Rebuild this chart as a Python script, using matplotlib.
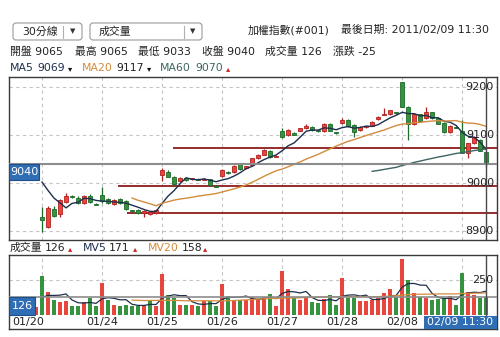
import matplotlib
matplotlib.use("Agg")
import matplotlib.pyplot as plt
from matplotlib.patches import Rectangle, FancyBboxPatch
from matplotlib.transforms import blended_transform_factory
import numpy as np
import pandas as pd

plt.rcParams['font.family'] = ['DejaVu Sans', 'Noto Sans CJK TC']

# 30 min bars: tail of 01/20, then 01/21 ... 02/09 11:30
opens = [9028, 9034, 9012, 9016,
         8929, 8908, 8946, 8935, 8960, 8972, 8969, 8959, 8973, 8957,
         8975, 8967, 8956, 8966, 8962, 8943, 8944, 8938, 8936, 8937,
         9016, 9023, 9013, 9004, 9011, 9008, 9009, 9007, 9008, 8994,
         9014, 9022, 9022, 9039, 9031, 9037, 9052, 9059, 9067, 9055,
         9108, 9099, 9105, 9109, 9114, 9117, 9110, 9109, 9124, 9106,
         9125, 9132, 9121, 9110, 9116, 9119, 9133, 9142, 9143, 9147,
         9210, 9159, 9122, 9143, 9135, 9147, 9135, 9126, 9106, 9117,
         9108, 9062, 9083, 9090, 9065]
highs = [9038, 9037, 9020, 9030,
         8950, 8951, 8951, 8967, 8980, 8974, 8972, 8975, 8976, 8959,
         8992, 8969, 8967, 8968, 8964, 8944, 8946, 8943, 8940, 8946,
         9031, 9027, 9014, 9012, 9012, 9011, 9010, 9010, 9009, 8995,
         9030, 9025, 9037, 9041, 9036, 9053, 9060, 9070, 9069, 9058,
         9115, 9112, 9107, 9115, 9123, 9119, 9111, 9125, 9126, 9107,
         9135, 9134, 9122, 9118, 9119, 9129, 9139, 9156, 9153, 9149,
         9211, 9160, 9145, 9144, 9159, 9148, 9136, 9127, 9120, 9119,
         9131, 9084, 9098, 9092, 9065]
lows = [9020, 9010, 9010, 9010,
        8898, 8905, 8929, 8930, 8958, 8969, 8957, 8957, 8959, 8954,
        8958, 8956, 8954, 8956, 8944, 8940, 8936, 8930, 8934, 8936,
        9005, 9012, 8996, 9002, 9005, 9007, 9006, 9006, 8994, 8991,
        9012, 9019, 9020, 9028, 9030, 9036, 9051, 9058, 9052, 9054,
        9094, 9098, 9099, 9108, 9113, 9109, 9107, 9107, 9108, 9103,
        9123, 9117, 9096, 9109, 9115, 9118, 9131, 9141, 9142, 9144,
        9158, 9090, 9121, 9128, 9134, 9134, 9123, 9105, 9105, 9114,
        9062, 9053, 9082, 9066, 9033]
closes = [9035, 9011, 9015, 9025,
          8923, 8948, 8931, 8965, 8973, 8970, 8959, 8973, 8961, 8955,
          8962, 8958, 8965, 8958, 8946, 8941, 8937, 8941, 8939, 8944,
          9026, 9013, 8998, 9011, 9006, 9010, 9007, 9009, 8995, 8992,
          9028, 9021, 9036, 9029, 9035, 9052, 9059, 9069, 9055, 9057,
          9096, 9110, 9100, 9114, 9119, 9110, 9108, 9124, 9109, 9104,
          9132, 9119, 9107, 9117, 9118, 9128, 9138, 9143, 9152, 9145,
          9159, 9124, 9143, 9129, 9149, 9135, 9124, 9106, 9119, 9115,
          9063, 9083, 9096, 9067, 9040]
volumes = [95, 110, 85, 59,
           281, 167, 107, 95, 102, 67, 67, 95, 119, 67,
           231, 107, 71, 67, 71, 67, 67, 69, 105, 67,
           290, 143, 119, 71, 71, 71, 64, 102, 102, 67,
           221, 136, 107, 107, 107, 126, 115, 130, 148, 64,
           314, 183, 119, 107, 119, 95, 85, 112, 143, 71,
           262, 122, 122, 102, 102, 107, 119, 158, 183, 131,
           400, 252, 160, 126, 124, 107, 112, 119, 136, 71,
           302, 165, 140, 122, 126]

dates = ['01/20', '01/21', '01/24', '01/25', '01/26', '01/27', '01/28', '02/08', '02/09']
day_start = [0, 4, 14, 24, 34, 44, 54, 64, 74]
last_time = '11:30'
price_ticks = [8900, 9000, 9100, 9200]
vol_ticks = [250]
sr_levels = [9072, 8993, 8938]
sr_from = [25.8, 16.7, 18.2]

RED, RED_D = '#e8453c', '#b02020'
GRN, GRN_D = '#35923f', '#1d6a2a'
BLUE = '#2f6db4'
C_MA5, C_MA20, C_MA60 = '#1e2f4d', '#d38b3c', '#3d6464'
GRID = '#c4c4c4'

o, h, l, c = map(np.array, (opens, highs, lows, closes))
v = np.array(volumes)
x = np.arange(len(c))
W, H = 500, 337


def box(x0, y0, x1, y1):
    return [x0 / W, 1 - y1 / H, (x1 - x0) / W, (y1 - y0) / H]


fig = plt.figure(figsize=(5, 3.37), dpi=100)
ax = fig.add_axes(box(9, 77, 497, 240))
axv = fig.add_axes(box(9, 255, 497, 329))
top = fig.add_axes([0, 0, 1, 1], zorder=-1)
top.set_xlim(0, W)
top.set_ylim(H, 0)
top.axis('off')

xlim = (-1.5, 79.8)
axw = 488.0  # axes width in px

# ---- price panel
ax.set_xlim(*xlim)
ax.set_ylim(8881, 9221)
ax.set_xticks([])
ax.set_yticks([])
for s in ax.spines.values():
    s.set_color('#3a3a3a')
    s.set_linewidth(1)
for p in price_ticks:
    ax.axhline(p, color=GRID, lw=0.8, ls=(0, (3, 3)), zorder=0)
for d in day_start[1:]:
    ax.axvline(d, color=GRID, lw=0.8, ls=(0, (3, 3)), zorder=0)

for lev, x0 in zip(sr_levels, sr_from):
    ax.hlines(lev, x0, xlim[1], color='#8e1b1b', lw=1.3, zorder=2)

up = c >= o
ax.vlines(x, l, h, colors=np.where(up, RED_D, GRN_D), lw=0.9, zorder=3)
ax.bar(x, np.maximum(np.abs(c - o), 0.6), bottom=np.minimum(o, c), width=0.7,
       color=np.where(up, RED, GRN), edgecolor=np.where(up, RED_D, GRN_D),
       lw=0.6, zorder=4)

cs = pd.Series(c)
ma = {}
for w, col in ((5, C_MA5), (20, C_MA20), (60, C_MA60)):
    ma[w] = cs.rolling(w).mean()
    ax.plot(x, ma[w], color=col, lw=1, zorder=5)

tr = blended_transform_factory(ax.transAxes, ax.transData)
ax.axhline(c[-1], color='#8c8c8c', lw=1.5, zorder=6)
ax.axvline(x[-1], color='#4a4a4a', lw=1, zorder=6)
ax.add_patch(Rectangle((0, c[-1] - 34), 30 / axw, 34, transform=tr, facecolor=BLUE,
                       edgecolor='#1d4f8c', lw=0.8, zorder=7))
ax.text(15 / axw, c[-1] - 17, str(c[-1]), transform=tr, ha='center', va='center',
        fontsize=8, color='white', zorder=8)
for p in price_ticks:
    ax.text(1 - 3 / axw, p, str(p), transform=tr, ha='right', va='center',
            fontsize=8, color='#222222', zorder=8)

# ---- volume panel
vtop = 428.6
axv.set_xlim(*xlim)
axv.set_ylim(-100, vtop)
axv.set_xticks([])
axv.set_yticks([])
for s in axv.spines.values():
    s.set_color('#3a3a3a')
    s.set_linewidth(1)
for t in vol_ticks:
    axv.axhline(t, color=GRID, lw=0.8, ls=(0, (3, 3)), zorder=0)
axv.vlines(day_start[1:], 0, vtop, color=GRID, lw=0.8, ls=(0, (3, 3)), zorder=0)

chg = np.diff(c, prepend=c[0])
axv.bar(x, v, width=0.72, color=np.where(chg >= 0, RED, GRN), zorder=3)
vs = pd.Series(v)
mv5 = vs.rolling(5).mean()
mv20 = vs.rolling(20).mean()
axv.plot(x, mv5, color=C_MA5, lw=0.9, zorder=4)
axv.plot(x, mv20, color=C_MA20, lw=0.9, zorder=4)

trv = blended_transform_factory(axv.transAxes, axv.transData)
axv.axhline(v[-1], color='#8c8c8c', lw=1.2, zorder=6)
axv.vlines(x[-1], -7, vtop, color='#4a4a4a', lw=1, zorder=6)
axv.add_patch(Rectangle((0, 0), 26 / axw, v[-1], transform=trv, facecolor=BLUE,
                        edgecolor='#1d4f8c', lw=0.8, zorder=7))
axv.text(13 / axw, v[-1] / 2, str(v[-1]), transform=trv, ha='center', va='center',
         fontsize=8, color='white', zorder=8)
for t in vol_ticks:
    axv.text(1 - 4 / axw, t, str(t), transform=trv, ha='right', va='center',
             fontsize=8, color='#222222', zorder=8)

axv.text(3 / axw, -50, dates[0], transform=trv, ha='left', va='center', fontsize=8, color='#222222')
for d, s in zip(day_start[2:-1], dates[2:-1]):
    axv.text(d, -50, s, ha='center', va='center', fontsize=8, color='#222222')
axv.add_patch(Rectangle((415 / axw, -100), 73 / axw, 93, transform=trv, facecolor=BLUE,
                        edgecolor='none', zorder=7, clip_on=False))
axv.text(451 / axw, -52, dates[-1] + ' ' + last_time, transform=trv, ha='center',
         va='center', fontsize=7.8, color='white', zorder=8)

# ---- header
fs = 7.8
dark = '#222222'
for x0, x1, sep, label in [(13, 82, 63, '30分線'), (90, 202, 184, '成交量')]:
    top.add_patch(FancyBboxPatch((x0, 23), x1 - x0, 17, boxstyle='round,pad=0,rounding_size=3',
                                 fc='white', ec='#9a9a9a', lw=0.8))
    top.plot([sep, sep], [25.5, 37.5], color='#b0b0b0', lw=0.8)
    top.text((sep + x1) / 2, 31.5, '▼', fontsize=5, ha='center', va='center', color='#333333')
    top.text(x0 + 9, 31.5, label, fontsize=fs, va='center', color=dark)

top.text(248, 30, '加權指數(#001)', fontsize=fs, va='center', color=dark)
top.text(489, 30, '最後日期: 2011/02/' + dates[-1][-2:] + ' ' + last_time, fontsize=fs,
         va='center', ha='right', color=dark)

info = [('開盤', o[-1], 10), ('最高', h[-1], 75), ('最低', l[-1], 138),
        ('收盤', c[-1], 202), ('成交量', v[-1], 265), ('漲跌', c[-1] - o[-1], 333)]
for name, val, px in info:
    top.text(px, 52, f'{name} {val}', fontsize=fs, va='center', color=dark)


def arrow(series):
    return ('▴', '#d02020') if series.iloc[-1] >= series.iloc[-2] else ('▾', '#111111')


ma_row = [('MA5', ma[5], C_MA5, C_MA5, 10, 37, 68),
          ('MA20', ma[20], C_MA20, dark, 82, 116, 147),
          ('MA60', ma[60], C_MA60, C_MA60, 160, 195, 226)]
for name, ser, ncol, vcol, xn, xv, xa in ma_row:
    top.text(xn, 68, name, fontsize=fs, va='center', color=ncol)
    top.text(xv, 68, str(int(ser.iloc[-1])), fontsize=fs, va='center', color=vcol)
    a, acol = arrow(ser)
    top.text(xa, 69, a, fontsize=6, va='center', color=acol)

vol_row = [('成交量', pd.Series(v.astype(float)), dark, dark, 10, 45, 68),
           ('MV5', mv5, C_MA5, dark, 83, 109, 133),
           ('MV20', mv20, C_MA20, dark, 148, 182, 203)]
for name, ser, ncol, vcol, xn, xv, xa in vol_row:
    top.text(xn, 248, name, fontsize=fs, va='center', color=ncol)
    top.text(xv, 248, str(int(ser.iloc[-1])), fontsize=fs, va='center', color=vcol)
    a, acol = arrow(ser)
    top.text(xa, 249, a, fontsize=6, va='center', color=acol)

fig.savefig('out.png', dpi=100)
